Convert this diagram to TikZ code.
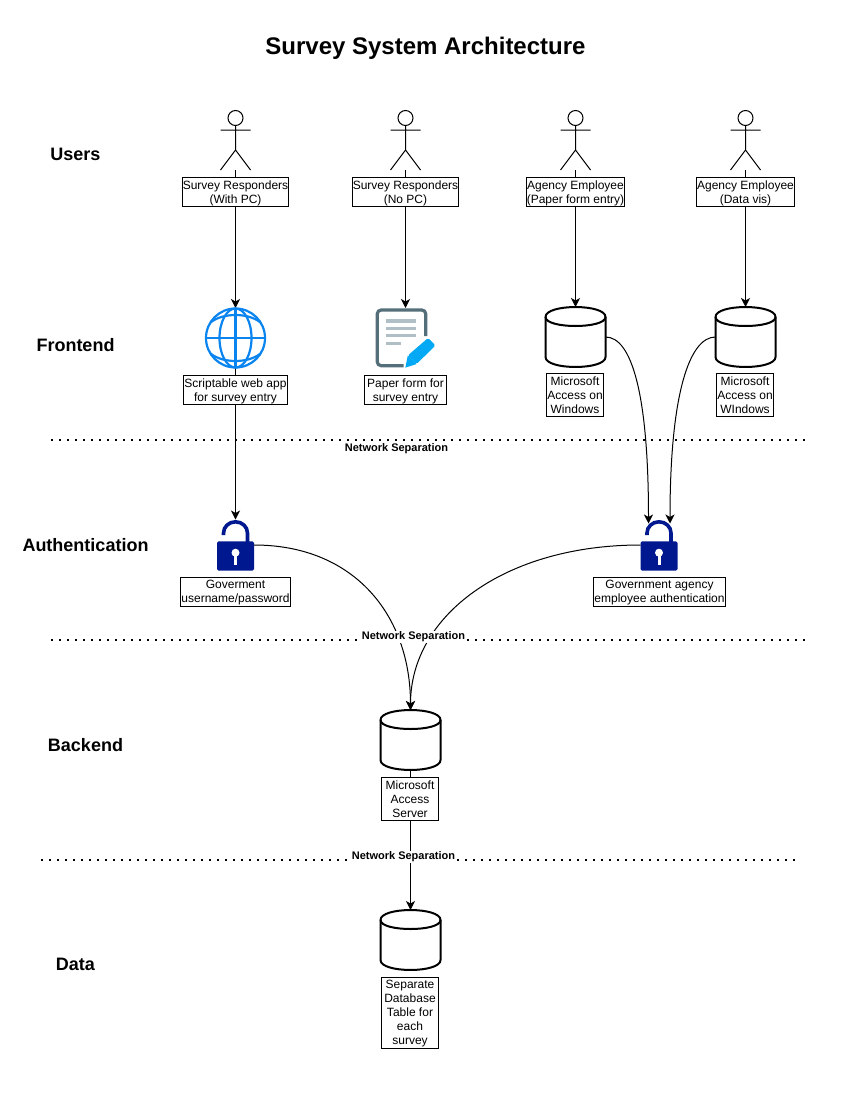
\documentclass[tikz,border=0pt]{standalone}
\usepackage{fontspec}
\setmainfont{Liberation Sans}
\usetikzlibrary{arrows.meta,backgrounds,calc,positioning}
\definecolor{globeblue}{HTML}{0A84EE}
\definecolor{lockblue}{HTML}{00188F}
\definecolor{docgrey}{HTML}{546E7A}
\definecolor{docbar}{HTML}{B0BEC5}
\definecolor{penblue}{HTML}{03A9F4}
\tikzset{
  flow/.style={line width=1pt,-{Stealth[length=9pt,width=9pt,inset=2.5pt]}},
  sepline/.style={line width=2pt,dash pattern=on 2pt off 6pt},
  lbl/.style={draw,fill=white,line width=1pt,align=center,inner sep=0.5pt,outer sep=0pt,minimum height=#1,text depth=0.5pt,font=\fontsize{12}{14}\selectfont},
  lbl/.default=29pt,
  sep/.style={fill=white,inner sep=1pt,font=\fontsize{11}{13}\selectfont\bfseries},
  tier/.style={font=\fontsize{18}{20}\selectfont\bfseries},
  iconbox/.style={inner sep=0pt,outer sep=0pt,minimum width=#1},
  iconbox/.default=30pt,
  actor/.pic={
    \draw[line width=1pt] (0,-52) circle (7.5);
    \draw[line width=1pt] (0,-44.5) -- (0,-20) (-15,-40) -- (15,-40) (-15,0) -- (0,-20) -- (15,0);
  },
  drum/.pic={
    \draw[line width=2pt,fill=white] (-30,-20) .. controls (-30,-33.3) and (30,-33.3) .. (30,-20) -- (30,20) .. controls (30,33.3) and (-30,33.3) .. (-30,20) -- cycle;
    \draw[line width=2pt] (-30,-20) .. controls (-30,-8) and (30,-8) .. (30,-20);
  },
  globe/.pic={
    \begin{scope}[globeblue,line width=2.2pt]
      \draw (0,0) circle (29.5);
      \draw (0,0) ellipse (16 and 29.5);
      \draw (-29.5,0) -- (29.5,0) (0,-29.5) -- (0,29.5);
      \draw (-25,-15.5) .. controls (-13,-25.5) and (13,-25.5) .. (25,-15.5);
      \draw (-25,15.5) .. controls (-13,25.5) and (13,25.5) .. (25,15.5);
    \end{scope}
  },
  formdoc/.pic={
    \draw[docgrey,line width=3.2pt,rounded corners=4pt] (20.3,-2) -- (20.3,-28) -- (-28.3,-28) -- (-28.3,27.7) -- (-2,27.7);
    \draw[docbar,line width=3.3pt] (-19.5,-17) -- (10.5,-17) (-19.5,-9.7) -- (10.5,-9.7) (-19.5,-2.3) -- (10.5,-2.3) (-19.5,5.3) -- (-4.5,5.3);
    \fill[penblue,rounded corners=1.5pt] (22.5,0) -- (30,7.3) -- (11.2,26) -- (2.3,17.5) -- cycle;
    \fill[penblue] (2.3,17.5) -- (11.2,26) -- (-0.2,29.7) -- cycle;
  },
  padlock/.pic={
    \draw[lockblue,line width=3.6pt] (-12,-10) -- (-12,-12) arc (180:360:12 and 11.2) -- (12,-3);
    \fill[lockblue,rounded corners=1.5pt] (-18.5,-3.7) rectangle (18.5,25.7);
    \fill[white] (0,7.7) circle (4);
    \fill[white] (-1.5,7.7) rectangle (1.5,20);
  },
}
\begin{document}
\begin{tikzpicture}[x=1pt,y=-1pt]
\useasboundingbox (0,0) rectangle (850,1100);
\node[font=\fontsize{24}{26}\selectfont\bfseries] (title) at (425.5,48) {Survey System Architecture};
% tiers
\node[tier] (users) at (75.5,154.7) {Users};
\node[tier] (frontend) at (75.5,344.7) {Frontend};
\node[tier] (auth) at (85.5,544.7) {Authentication};
\node[tier] (backend) at (85.5,744.7) {Backend};
\node[tier] (data) at (75.5,964.7) {Data};
% actors
\node[iconbox,minimum height=60pt] (actA) at (235.5,140) {};
\node[iconbox,minimum height=60pt] (actB) at (405.5,140) {};
\node[iconbox,minimum height=60pt] (actC) at (575.5,140) {};
\node[iconbox,minimum height=60pt] (actD) at (745.5,140) {};
\pic at (actA.south) {actor};
\pic at (actB.south) {actor};
\pic at (actC.south) {actor};
\pic at (actD.south) {actor};
\node[lbl] (lblA) at (235.5,192) {Survey Responders\\(With PC)};
\node[lbl] (lblB) at (405.5,192) {Survey Responders\\(No PC)};
\node[lbl] (lblC) at (575.5,192) {Agency Employee\\(Paper form entry)};
\node[lbl] (lblD) at (745.5,192) {Agency Employee\\(Data vis)};
% frontend
\node[iconbox=60pt,minimum height=60pt] (web) at (235.5,338) {};
\pic at (web) {globe};
\node[iconbox=60pt,minimum height=60pt] (paper) at (405.5,338) {};
\pic at (paper) {formdoc};
\node[iconbox=60pt,minimum height=60pt] (cylA) at (575.5,337) {};
\pic at (cylA) {drum};
\node[iconbox=60pt,minimum height=60pt] (cylB) at (745.5,337) {};
\pic at (cylB) {drum};
\node[lbl] (lblWeb) at (235.5,390) {Scriptable web app\\for survey entry};
\node[lbl,minimum width=82pt] (lblPaper) at (405.5,390) {Paper form for\\survey entry};
\node[lbl=43pt] (lblCylA) at (575,395) {Microsoft\\Access on\\Windows};
\node[lbl=43pt] (lblCylB) at (745,395) {Microsoft\\Access on\\WIndows};
% authentication
\node[iconbox=37pt,minimum height=51pt] (lockA) at (235.5,545) {};
\pic at (lockA) {padlock};
\node[iconbox=37pt,minimum height=51pt] (lockB) at (659,545) {};
\pic at (lockB) {padlock};
\coordinate (lockBl) at ($(lockB.north)+(-10.5,4)$);
\coordinate (lockBr) at ($(lockB.north)+(11,4)$);
\node[lbl] (lblLockA) at (235.5,592) {Goverment\\username/password};
\node[lbl] (lblLockB) at (659.5,592) {Government agency\\employee authentication};
% backend and data
\node[iconbox=60pt,minimum height=60pt] (server) at (410.5,740) {};
\pic at (server) {drum};
\node[iconbox=60pt,minimum height=60pt] (store) at (410.5,940) {};
\pic at (store) {drum};
\node[lbl=43pt,minimum width=57pt] (lblServer) at (410,799) {Microsoft\\Access\\Server};
\node[lbl=71pt,minimum width=57pt] (lblStore) at (410,1013) {Separate\\Database\\Table for\\each\\survey};
% network separation
\coordinate (sepAl) at (51,440);
\coordinate (sepAr) at (805,440);
\coordinate (sepBl) at (51,640);
\coordinate (sepBr) at (805,640);
\coordinate (sepCl) at (41,860);
\coordinate (sepCr) at (795,860);
\node[sep] (sepA) at (396.5,449) {Network Separation};
\node[sep] (sepB) at (413.5,637) {Network Separation};
\node[sep] (sepC) at (403.5,857) {Network Separation};
\begin{scope}[on background layer]
\draw[sepline] (sepAl) -- (sepAr);
\draw[sepline] (sepBl) -- (sepBr);
\draw[sepline] (sepCl) -- (sepCr);
\draw[flow] (actA.south) -- (web.north);
\draw[flow] (actB.south) -- (paper.north);
\draw[flow] (actC.south) -- (cylA.north);
\draw[flow] (actD.south) -- (cylB.north);
\draw[flow] (web.south) -- (lockA.north);
\draw[flow] (cylA.east) .. controls +(26,0) and +(0,-130) .. (lockBl);
\draw[flow] (cylB.west) .. controls +(-26,0) and +(0,-130) .. (lockBr);
\draw[flow] (lockA.east) .. controls +(100,0) and +(0,-95) .. (server.north);
\draw[flow] (lockB.west) .. controls +(-135,0) and +(0,-95) .. (server.north);
\draw[flow] (server.south) -- (store.north);
\end{scope}
\end{tikzpicture}
\end{document}
